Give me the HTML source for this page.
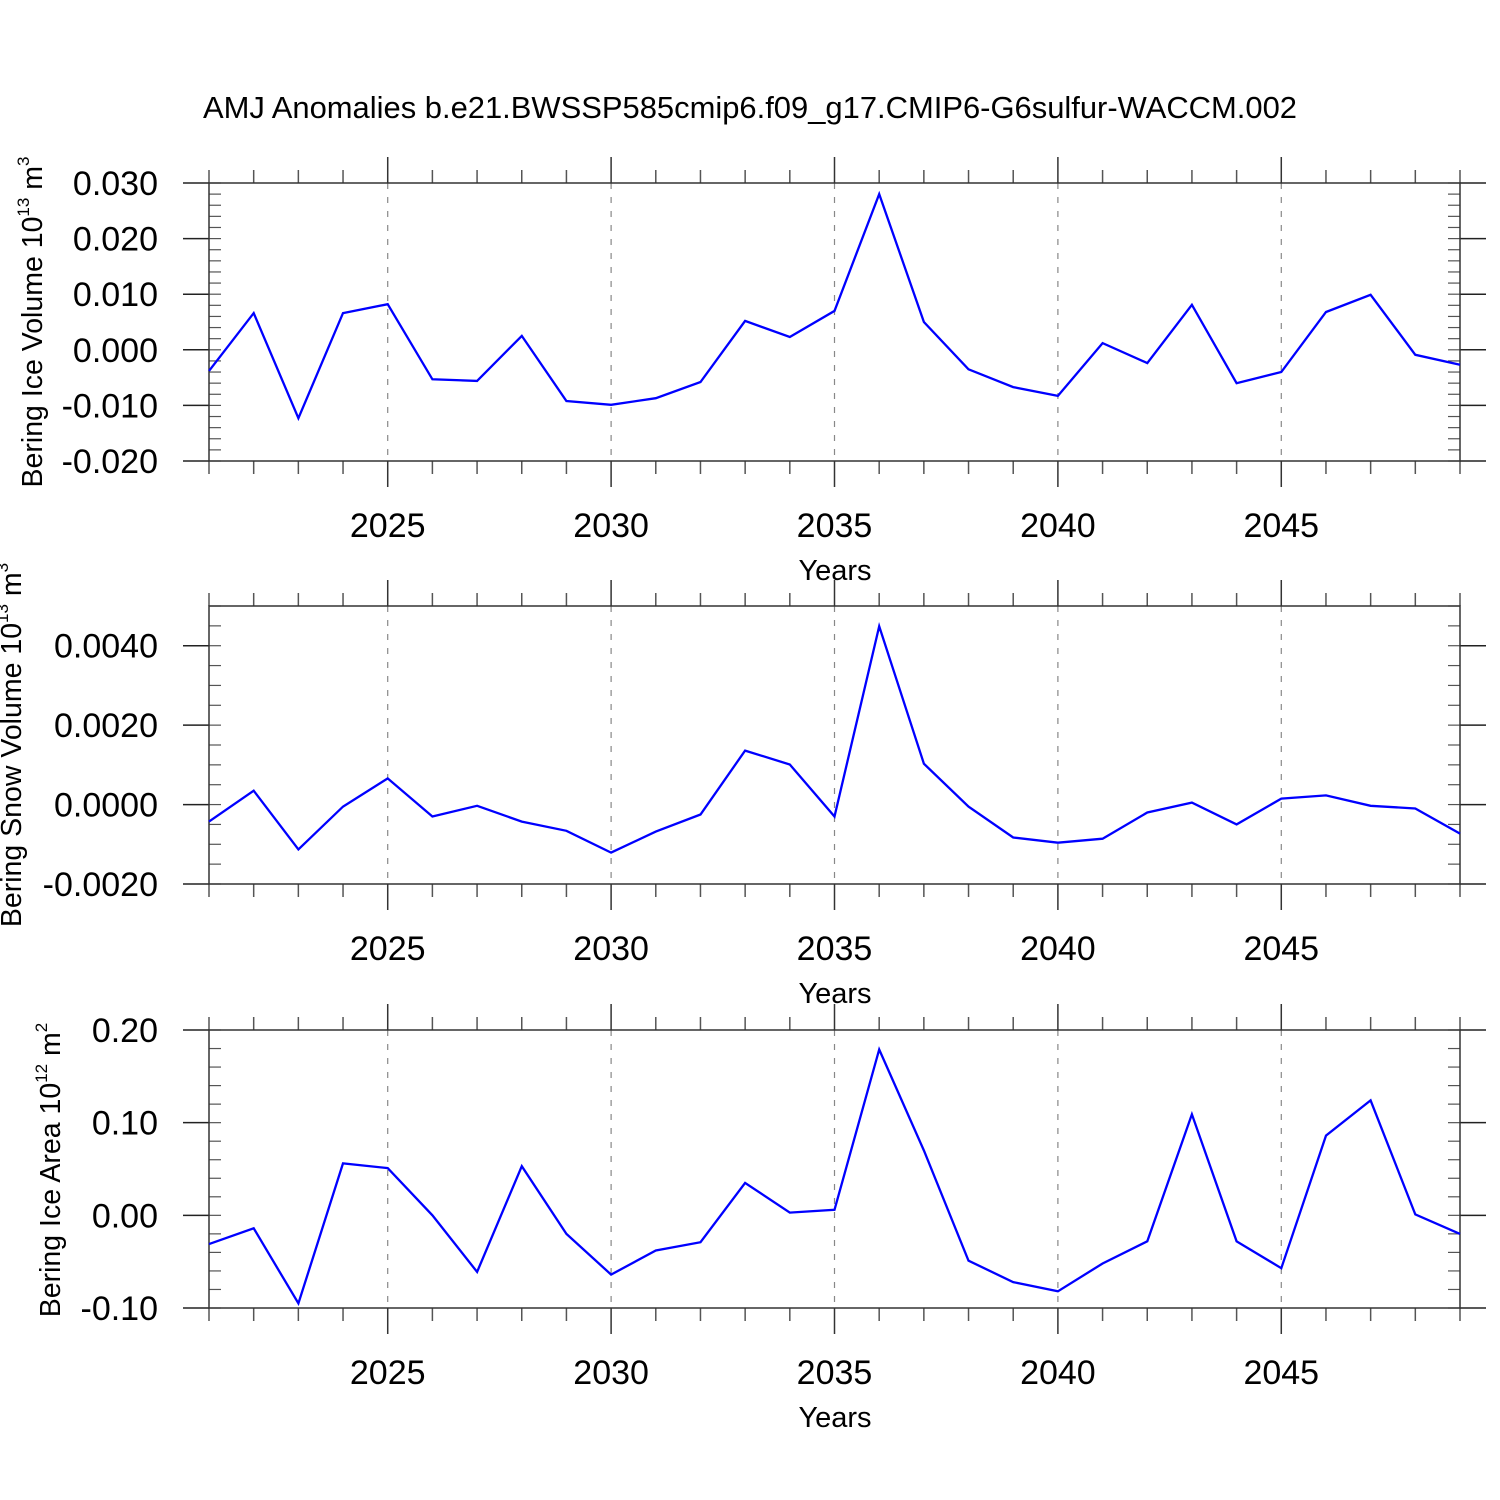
<!DOCTYPE html>
<html><head><meta charset="utf-8"><style>
html,body{margin:0;padding:0;background:#fff}
svg{display:block;font-family:"Liberation Sans",Arial,sans-serif}
</style></head><body>
<svg id="chart" width="1500" height="1500" viewBox="0 0 1500 1500" xmlns="http://www.w3.org/2000/svg">
<text x="750" y="118" font-size="31" text-anchor="middle" textLength="1094" lengthAdjust="spacingAndGlyphs">AMJ Anomalies b.e21.BWSSP585cmip6.f09_g17.CMIP6-G6sulfur-WACCM.002</text>
</svg>
<script>
const years = [2021,2022,2023,2024,2025,2026,2027,2028,2029,2030,2031,2032,2033,2034,2035,2036,2037,2038,2039,2040,2041,2042,2043,2044,2045,2046,2047,2048,2049];
const iceVolume = [-0.0038,0.0066,-0.0123,0.0066,0.0082,-0.0053,-0.0056,0.0025,-0.0092,-0.0099,-0.0087,-0.0058,0.0052,0.0023,0.0070,0.0280,0.0050,-0.0035,-0.0067,-0.0083,0.0012,-0.0024,0.0081,-0.0060,-0.0040,0.0068,0.0099,-0.0009,-0.0027];
const snowVolume = [-0.00043,0.00035,-0.00113,-0.00005,0.00066,-0.0003,-0.00003,-0.00043,-0.00066,-0.00121,-0.00068,-0.00025,0.00136,0.00101,-0.0003,0.00449,0.00103,-0.00005,-0.00083,-0.00096,-0.00086,-0.0002,0.00005,-0.0005,0.00015,0.00023,-0.00003,-0.0001,-0.00073];
const iceArea = [-0.031,-0.014,-0.095,0.056,0.051,0.0,-0.061,0.053,-0.020,-0.064,-0.038,-0.029,0.035,0.003,0.006,0.179,0.070,-0.049,-0.072,-0.082,-0.052,-0.028,0.109,-0.028,-0.057,0.086,0.124,0.001,-0.020];
const xTicks = [2025,2030,2035,2040,2045];
const yTicks1 = [-0.02,-0.01,0,0.01,0.02,0.03];
const yLabels1 = ["-0.020","-0.010","0.000","0.010","0.020","0.030"];
const yTicks2 = [-0.002,0,0.002,0.004];
const yLabels2 = ["-0.0020","0.0000","0.0020","0.0040"];
const yTicks3 = [-0.1,0,0.1,0.2];
const yLabels3 = ["-0.10","0.00","0.10","0.20"];

const NS="http://www.w3.org/2000/svg";
const svg=document.getElementById('chart');
function mk(tag,attrs,parent){const e=document.createElementNS(NS,tag);for(const k in attrs)e.setAttribute(k,attrs[k]);(parent||svg).appendChild(e);return e;}
const X0=209,X1=1460,xMin=2021,xMax=2049;
function xs(v){return X0+(v-xMin)/(xMax-xMin)*(X1-X0);}

function panel(cfg){
  const g=mk('g',{});
  
  
  const T=cfg.top,B=cfg.bottom;
  const ys=v=>B-(v-cfg.yMin)/(cfg.yMax-cfg.yMin)*(B-T);
  xTicks.forEach(t=>{const l=mk('line',{x1:xs(t),x2:xs(t),y1:T,y2:B,stroke:'#888','stroke-width':1.2,'stroke-dasharray':'6,8'},g);
    
    });
  years.forEach(y=>{ if(xTicks.includes(y))return;
    mk('line',{x1:xs(y),x2:xs(y),y1:T-13,y2:T,stroke:'#555','stroke-width':1.5},g);
    mk('line',{x1:xs(y),x2:xs(y),y1:B,y2:B+13,stroke:'#555','stroke-width':1.5},g);});
  xTicks.forEach(t=>{
    mk('line',{x1:xs(t),x2:xs(t),y1:T-26,y2:T,stroke:'#333','stroke-width':1.5},g);
    mk('line',{x1:xs(t),x2:xs(t),y1:B,y2:B+26,stroke:'#333','stroke-width':1.5},g);
    const tx=mk('text',{x:xs(t),y:B+76,'font-size':34,'text-anchor':'middle'},g);tx.textContent=t;
    
    
  });
  for(let v=cfg.yMin;v<=cfg.yMax+1e-12;v+=cfg.minor){
    mk('line',{x1:X0,x2:X0+12,y1:ys(v),y2:ys(v),stroke:'#555','stroke-width':1.2},g);
    mk('line',{x1:X1-12,x2:X1,y1:ys(v),y2:ys(v),stroke:'#555','stroke-width':1.2},g);
  }
  cfg.ticks.forEach((t,i)=>{
    mk('line',{x1:X0-26,x2:X0,y1:ys(t),y2:ys(t),stroke:'#222','stroke-width':1.5},g);
    mk('line',{x1:X1,x2:X1+26,y1:ys(t),y2:ys(t),stroke:'#222','stroke-width':1.5},g);
    const tx=mk('text',{x:158,y:ys(t)+12,'font-size':34,'text-anchor':'end'},g);tx.textContent=cfg.labels[i];
    
    
  });
  const fr=mk('rect',{x:X0,y:T,width:X1-X0,height:B-T,fill:'none',stroke:'#333','stroke-width':1.5},g);
  
  
  const pts=years.map((y,i)=>xs(y).toFixed(1)+','+ys(cfg.data[i]).toFixed(1)).join(' ');
  const pl=mk('polyline',{points:pts,fill:'none',stroke:'#0000ff','stroke-width':2.3,'stroke-linejoin':'miter'},g);
  
  
  const xt=mk('text',{x:835,y:B+119,'font-size':29,'text-anchor':'middle'},g);xt.textContent='Years';
  
  
  const yt=mk('text',{x:0,y:0,'font-size':28.5,'text-anchor':'middle',transform:`translate(${cfg.tx},${cfg.ty}) rotate(-90)`},g);
  
  
  yt.innerHTML=cfg.title;
}
panel({name:'ice-volume-panel',top:183,bottom:461,yMin:-0.02,yMax:0.03,minor:0.002,ticks:yTicks1,labels:yLabels1,data:iceVolume,tx:42,ty:322,
  title:'Bering Ice Volume 10<tspan font-size="17" dy="-13">13</tspan><tspan dy="13"> m</tspan><tspan font-size="17" dy="-13">3</tspan>'});
panel({name:'snow-volume-panel',top:606,bottom:884,yMin:-0.002,yMax:0.005,minor:0.0005,ticks:yTicks2,labels:yLabels2,data:snowVolume,tx:21,ty:745,
  title:'Bering Snow Volume 10<tspan font-size="17" dy="-13">13</tspan><tspan dy="13"> m</tspan><tspan font-size="17" dy="-13">3</tspan>'});
panel({name:'ice-area-panel',top:1030,bottom:1308,yMin:-0.1,yMax:0.2,minor:0.02,ticks:yTicks3,labels:yLabels3,data:iceArea,tx:60,ty:1170,
  title:'Bering Ice Area 10<tspan font-size="17" dy="-13">12</tspan><tspan dy="13"> m</tspan><tspan font-size="17" dy="-13">2</tspan>'});
</script>
</body></html>
